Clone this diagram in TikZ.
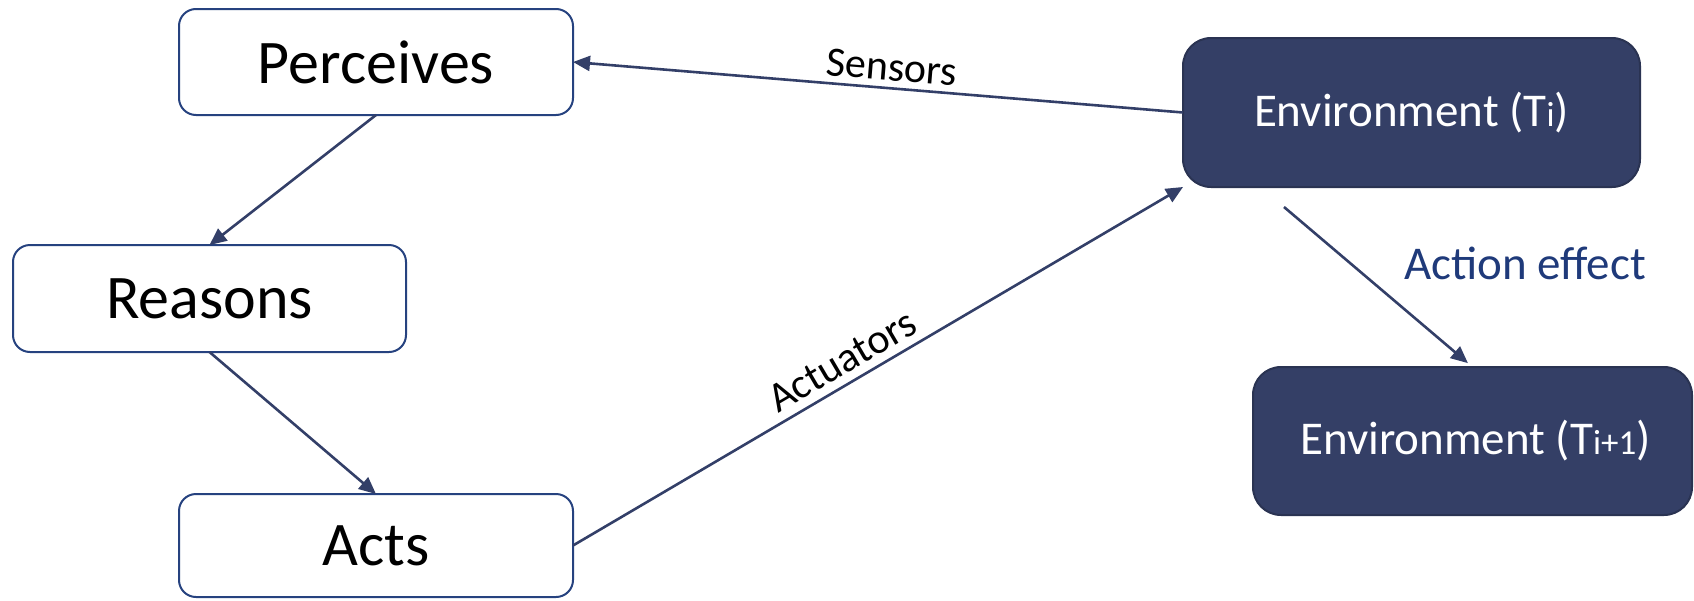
\documentclass[tikz,border=0pt]{standalone}
\usepackage{fontspec}
\setmainfont{Carlito}
\usetikzlibrary{arrows.meta,calc}

\definecolor{boxline}{HTML}{26427F}
\definecolor{envfill}{HTML}{343F66}
\definecolor{envline}{HTML}{2A3352}
\definecolor{arrowcol}{HTML}{333F68}
\definecolor{effectcol}{HTML}{1F3A7A}

% smaller index letters inside the environment labels
\newcommand{\smallidx}[1]{{\fontsize{35}{35}\selectfont #1}}

\begin{document}
\begin{tikzpicture}[x=1pt,y=-1pt,
  stagebox/.style={draw=boxline, line width=2pt, fill=white,
    rounded corners=17pt, minimum width=394pt, minimum height=106pt,
    inner sep=0pt, outer sep=0pt, font=\fontsize{62}{62}\selectfont},
  envbox/.style={draw=envline, line width=2pt, fill=envfill,
    rounded corners=28pt, inner sep=0pt, outer sep=0pt, text=white,
    font=\fontsize{47}{47}\selectfont},
  flow/.style={draw=arrowcol, line width=2.6pt,
    -{Triangle[length=17pt,width=15pt]}},
  linklabel/.style={font=\fontsize{42}{42}\selectfont, sloped, inner sep=0pt}
]
\useasboundingbox (0,0) rectangle (1694,600);

% agent stages
\node[stagebox] (perc) at (376,62) {Perceives};
\node[stagebox, minimum width=393pt, minimum height=107pt] (reas) at (209.5,298.5) {Reasons};
\node[stagebox, minimum height=103pt] (acts) at (376,545.5) {Acts};

% environment states
\node[envbox, minimum width=457pt, minimum height=149pt] (envA) at (1411.5,112.5) {Environment (T\smallidx{i})};
\node[envbox, minimum width=439pt, minimum height=148pt] (envB) at (1472.5,441) {\hspace*{6pt}Environment (T\smallidx{i+1})};

% agent cycle
\draw[flow] (perc.south) -- (reas.north);
\draw[flow] (reas.south) -- (acts.north);

% interaction with the environment
\draw[flow] (envA.west) -- node[linklabel, pos=0.48, above=6pt] {Sensors} (perc.east);
\draw[flow] (acts.east) -- node[linklabel, pos=0.46, above=8pt] {Actuators} (envA.south west);

% state transition
\coordinate (aeStart) at ([xshift=-127.5pt, yshift=-20pt]envA.south);
\draw[flow, shorten >=6pt] (aeStart) -- (envB.north);
\node[text=effectcol, font=\fontsize{47}{47}\selectfont, inner sep=0pt] (effect) at (1525,263) {Action effect};
\end{tikzpicture}
\end{document}
